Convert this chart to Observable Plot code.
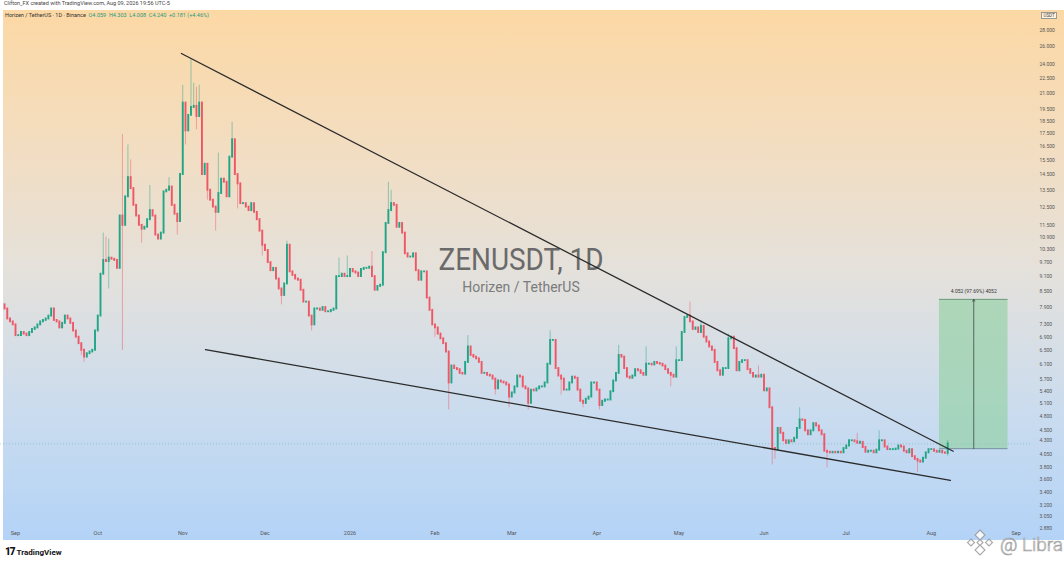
<!DOCTYPE html>
<html>
<head>
<meta charset="utf-8">
<script src="https://cdn.jsdelivr.net/npm/d3@7"></script>
<script src="https://cdn.jsdelivr.net/npm/@observablehq/plot@0.6"></script>
<style>
  html, body { margin: 0; padding: 0; background: #ffffff; }
  body { width: 1064px; height: 565px; position: relative; overflow: hidden; font-family: Roboto, "Noto Sans", sans-serif; }
  #bg { position: absolute; left: 3px; top: 10px; width: 1061px; height: 530px;
        background: linear-gradient(to bottom, #fcd8a4 0%, #f3ddc0 25%, #e4e1dc 50%, #cbdcee 75%, #b3d3f7 100%); }
  #chart { position: absolute; left: 0; top: 10px; }
  .hdr1 { position: absolute; left: 4px; top: 1px; font-size: 5.5px; line-height: 1; color: #444; white-space: nowrap; }
  .hdr2 { position: absolute; left: 5px; top: 13px; font-size: 5.5px; line-height: 1; color: #333; white-space: nowrap; }
  .hdr2 .ohlc { color: #1f9a7e; }
  .usdt { position: absolute; left: 1041px; top: 12px; font-size: 4.5px; line-height: 1.2; color: #444; border: 0.5px solid #999; padding: 0 1.5px; background: #fff3e0; }
  .wm1 { position: absolute; left: 0; width: 1042px; text-align: center; top: 244px; font-size: 31px; line-height: 1; color: #6a6a6a; transform: scaleX(0.9); transform-origin: 521px 0; }
  .wm2 { position: absolute; left: 0; width: 1042px; text-align: center; top: 280px; font-size: 14px; line-height: 1; color: #7b7b7b; }
  .tv { position: absolute; left: 5px; top: 546px; font-size: 8px; line-height: 1.2; font-weight: 700; color: #111; white-space: nowrap; }
  .tv b { font-size: 10px; letter-spacing: -1px; margin-right: 2px; }
  #libra { position: absolute; left: 962px; top: 526px; }
</style>
</head>
<body>
<div id="bg"></div>
<div class="hdr1">Clifton_FX created with TradingView.com, Aug 09, 2026 19:56 UTC-5</div>
<div class="hdr2">Horizen / TetherUS · 1D · Binance &nbsp;<span class="ohlc">O4.059 &nbsp;H4.303 &nbsp;L4.008 &nbsp;C4.240 &nbsp;+0.181 (+4.46%)</span></div>
<div class="wm1">ZENUSDT, 1D</div>
<div class="wm2">Horizen / TetherUS</div>
<div id="chart"></div>
<div class="usdt">USDT</div>
<div class="tv"><b>17</b>TradingView</div>
<svg id="libra" width="102" height="36" viewBox="0 0 102 36">
  <g fill="#ffffff" stroke="#9a9a9a" stroke-width="1.1" opacity="0.85">
    <path d="M18 4 L23 9 L18 14 L13 9 Z"/>
    <path d="M9 13 L12.5 16.5 L9 20 L5.5 16.5 Z"/>
    <path d="M27 13 L30.5 16.5 L27 20 L23.5 16.5 Z"/>
    <path d="M18 19 L23 24 L18 29 L13 24 Z"/>
    <path d="M18 13.5 L21 16.5 L18 19.5 L15 16.5 Z"/>
  </g>
  <text x="38" y="25" font-size="19" font-family="Roboto, sans-serif" font-weight="300" fill="#ffffff" stroke="#9a9a9a" stroke-width="0.7" opacity="0.9">@ Libra</text>
</svg>
<script>
// ---- Data ----
const startDate = "2025-08-28";   // date of the first daily candle
const firstOpen = 8.0;
const closes = [
  7.85,7.5,7.4,7.3,6.95,6.95,7.05,7.0,6.95,7.05,
  7.15,7.2,7.3,7.4,7.45,7.5,7.6,7.85,7.45,7.4,
  7.2,7.35,7.6,7.5,7.35,7.1,6.9,6.7,6.5,6.3,
  6.4,6.45,6.5,7.1,7.6,9.2,9.8,9.75,9.9,9.85,
  9.8,9.45,12.0,11.5,13.1,14.3,13.6,12.6,12.0,11.5,
  11.3,11.4,11.8,12.3,12.0,11.0,10.8,11.1,13.4,13.5,
  13.7,12.6,12.1,11.7,14.5,20.1,17.7,19.0,19.7,19.8,
  18.9,20.1,14.5,15.2,13.5,12.9,12.5,12.2,13.3,14.2,
  14.0,13.1,15.7,17.0,14.5,13.9,12.7,12.7,12.5,12.3,
  12.7,12.2,11.8,11.2,10.5,10.25,9.7,9.35,9.45,9.0,
  8.6,8.35,8.8,10.5,9.3,9.15,9.0,8.95,8.55,8.1,
  8.1,7.6,7.3,7.85,7.85,7.8,7.9,7.75,7.75,7.8,
  7.85,9.1,9.1,9.2,9.1,9.1,9.4,9.3,9.25,9.1,
  9.4,9.45,9.45,9.5,9.1,8.55,8.7,8.75,10.15,11.6,
  12.3,12.7,12.6,11.4,11.6,11.1,10.1,9.95,9.95,10.1,
  9.35,8.95,9.3,9.3,8.25,7.8,7.3,7.2,7.0,6.85,
  6.7,6.45,5.6,6.05,5.98,5.95,5.85,5.83,6.15,6.6,
  6.35,6.3,6.25,6.15,5.85,5.85,5.8,5.78,5.7,5.45,
  5.65,5.62,5.6,5.55,5.25,5.35,5.5,5.78,5.75,5.5,
  5.45,5.1,5.42,5.4,5.45,5.5,5.5,5.6,6.1,6.8,
  6.8,5.98,5.78,5.7,5.42,5.42,5.6,5.75,5.72,5.42,
  5.15,5.1,5.2,5.25,5.6,5.6,5.42,5.05,5.15,5.18,
  5.18,5.38,5.65,5.85,6.35,6.3,5.98,5.75,5.72,5.78,
  5.95,5.92,5.85,5.8,6.1,6.1,6.08,6.15,6.12,6.1,
  6.05,5.95,5.85,5.8,5.75,6.2,6.2,7.05,7.55,7.6,
  7.4,7.15,7.2,7.05,7.25,6.9,6.75,6.6,6.5,6.15,
  5.92,5.8,5.98,5.98,6.85,6.9,6.55,5.92,6.15,6.2,
  6.2,5.95,5.85,5.75,5.78,5.75,5.8,5.4,5.45,5.0,
  4.15,4.13,4.55,4.45,4.3,4.25,4.3,4.28,4.35,4.55,
  4.73,4.72,4.5,4.42,4.5,4.65,4.6,4.5,4.42,4.1,
  4.08,4.07,4.08,4.07,4.08,4.07,4.15,4.2,4.3,4.3,
  4.28,4.25,4.27,4.17,4.08,4.1,4.1,4.07,4.12,4.3,
  4.3,4.18,4.13,4.13,4.13,4.14,4.2,4.18,4.1,4.07,
  4.13,4.0,3.95,3.92,3.9,3.97,4.07,4.13,4.13,4.1,
  4.08,4.1,4.07,4.06,4.24
];
// visible long wicks
const wickDates = ["2025-09-25","2025-09-26","2025-10-03","2025-10-04","2025-10-05","2025-10-10","2025-10-12","2025-10-13","2025-10-17","2025-10-20","2025-10-27","2025-10-30","2025-11-01","2025-11-02","2025-11-04","2025-11-05","2025-11-06","2025-11-07","2025-11-10","2025-11-13","2025-11-14","2025-11-19","2025-11-21","2025-11-30","2025-12-07","2025-12-09","2025-12-18","2025-12-28","2025-12-31","2026-01-09","2026-01-15","2026-01-16","2026-02-01","2026-02-06","2026-02-13","2026-02-23","2026-02-28","2026-03-07","2026-03-15","2026-03-19","2026-03-27","2026-04-02","2026-04-09","2026-04-19","2026-04-28","2026-04-30","2026-05-05","2026-05-09","2026-05-19","2026-05-30","2026-06-04","2026-06-05","2026-06-14","2026-06-24","2026-07-05","2026-07-13","2026-07-27","2026-08-07"];
const wickHighs = [null,null,11.1,10.9,10.8,17.4,16.6,15.5,null,13.8,14.3,null,21.8,null,24.5,22.0,21.6,21.8,null,null,16.0,18.4,null,null,null,10.7,null,9.9,10.0,10.2,14.0,13.5,null,null,6.95,null,null,null,7.1,null,null,null,6.65,6.6,null,6.6,8.1,7.45,7.0,6.05,null,null,5.0,null,4.45,4.5,null,4.303];
const wickLows  = [6.35,6.15,null,null,8.6,6.5,null,null,10.6,null,null,11.0,null,16.6,null,null,17.8,null,12.9,11.2,null,null,12.4,10.0,8.0,null,7.1,null,null,null,null,null,6.9,4.95,null,5.3,5.0,4.95,null,5.3,5.0,4.95,null,null,5.5,null,null,null,null,null,3.85,3.95,null,3.8,null,null,3.72,4.008];

// trend lines (falling wedge)
const upperDates = ["2025-10-31T12:00Z","2026-08-09T00:00Z"];
const upperPrices = [25.2, 4.10];
const lowerDates = ["2025-11-09T07:00Z","2026-08-08T00:00Z"];
const lowerPrices = [6.52, 3.59];

// measure box
const boxDates = ["2026-08-04T00:00Z","2026-08-29T00:00Z"];
const boxPrices = [4.148, 8.2];
const boxArrowDate = "2026-08-16T12:00Z";
const boxLabel = "4.052 (97.69%) 4052";

// axes
const monthTicks = ["2025-09-01","2025-10-01","2025-11-01","2025-12-01","2026-01-01","2026-02-01","2026-03-01","2026-04-01","2026-05-01","2026-06-01","2026-07-01","2026-08-01","2026-09-01"];
const monthLabels = ["Sep","Oct","Nov","Dec","2026","Feb","Mar","Apr","May","Jun","Jul","Aug","Sep"];
const yTicks = [28,26,24,22.5,21,19.5,18.5,17.5,16.5,15.5,14.5,13.5,12.5,11.5,10.9,10.3,9.7,9.1,8.5,7.9,7.3,6.9,6.5,6.1,5.7,5.4,5.1,4.8,4.5,4.3,4.05,3.8,3.6,3.4,3.2,3.05,2.88];

// ---- build candle table ----
const wickMap = new Map(wickDates.map((d, i) => [d, {hi: wickHighs[i], lo: wickLows[i]}]));
const t0 = new Date(startDate + "T00:00:00Z");
const candles = closes.map((c, i) => {
  const date = new Date(t0.getTime() + i * 86400000);
  const key = date.toISOString().slice(0, 10);
  const open = i === 0 ? firstOpen : closes[i - 1];
  const w = wickMap.get(key) || {};
  const high = Math.max(open, c, w.hi ?? -Infinity);
  const low = Math.min(open, c, w.lo ?? Infinity);
  return {date, open, close: c, high, low, up: c >= open};
});
const upColor = "#22a586", downColor = "#ee5766";
const last = candles[candles.length - 1];

const upper = upperDates.map((d, i) => ({date: new Date(d), price: upperPrices[i]}));
const lower = lowerDates.map((d, i) => ({date: new Date(d), price: lowerPrices[i]}));
const box = [{x1: new Date(boxDates[0]), x2: new Date(boxDates[1]), y1: boxPrices[0], y2: boxPrices[1]}];
const labelByTime = new Map(monthTicks.map((d, i) => [+new Date(d + "T00:00:00Z"), monthLabels[i]]));

const chart = Plot.plot({
  width: 1064,
  height: 530,
  marginLeft: 0,
  marginRight: 34,
  marginTop: 0,
  marginBottom: 12,
  style: {background: "transparent", fontFamily: "Roboto, sans-serif", overflow: "visible"},
  x: {type: "utc", domain: [new Date("2025-08-26T12:43:00Z"), new Date("2026-09-06T04:48:00Z")]},
  y: {type: "log", domain: [2.881, 30.67]},
  marks: [
    // last price line
    Plot.ruleY([last.close], {stroke: upColor, strokeOpacity: 0.45, strokeDasharray: "1,2", strokeWidth: 0.8}),
    // measure box
    Plot.rect(box, {x1: "x1", x2: "x2", y1: "y1", y2: "y2", fill: "#8fd0a0", fillOpacity: 0.62}),
    Plot.ruleY(box, {x1: "x1", x2: "x2", y: "y2", stroke: "#5f8a6e", strokeWidth: 0.8}),
    Plot.ruleY(box, {x1: "x1", x2: "x2", y: "y1", stroke: "#5f7f88", strokeWidth: 0.8}),
    Plot.arrow(box, {x1: () => new Date(boxArrowDate), x2: () => new Date(boxArrowDate), y1: "y1", y2: "y2", stroke: "#3f4a46", strokeWidth: 0.8, headLength: 4}),
    Plot.text(box, {x: () => new Date(boxArrowDate), y: "y2", text: () => boxLabel, dy: -8, fontSize: 5, fill: "#333"}),
    // wicks
    Plot.ruleX(candles, {x: "date", y1: "low", y2: "high", stroke: d => d.up ? upColor : downColor, strokeOpacity: 0.6, strokeWidth: 0.8}),
    // bodies
    Plot.ruleX(candles, {x: "date", y1: "open", y2: "close", stroke: d => d.up ? upColor : downColor, strokeWidth: 1.9, strokeLinecap: "square"}),
    // wedge lines
    Plot.line(upper, {x: "date", y: "price", stroke: "#2b2b2b", strokeWidth: 1.3}),
    Plot.line(lower, {x: "date", y: "price", stroke: "#2b2b2b", strokeWidth: 1.3}),
    // axes
    Plot.axisX({ticks: monthTicks.map(d => new Date(d + "T00:00:00Z")), tickFormat: d => labelByTime.get(+d), tickSize: 0, tickPadding: 3, fontSize: 5.5, fill: "#555"}),
    Plot.axisY({anchor: "right", ticks: yTicks, tickFormat: d => d.toFixed(3), tickSize: 0, tickPadding: 9, fontSize: 5, fill: "#555"})
  ]
});
document.getElementById("chart").appendChild(chart);
</script>
</body>
</html>
